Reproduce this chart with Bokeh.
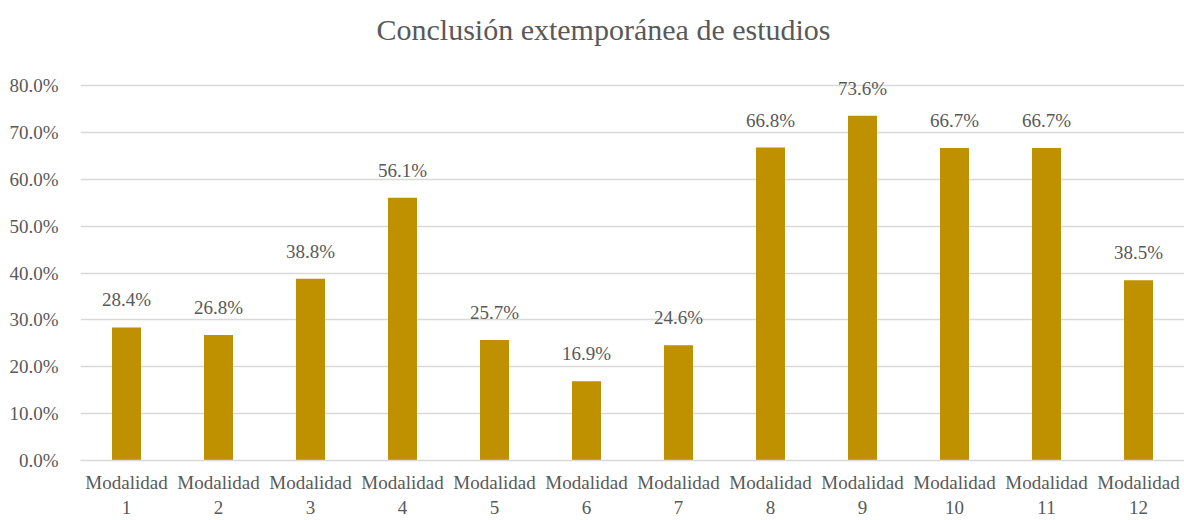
from bokeh.plotting import figure
from bokeh.models import ColumnDataSource, Range1d, FixedTicker, NumeralTickFormatter, Label
from bokeh.embed import file_html
from bokeh.resources import INLINE

categories = ["Modalidad\n1", "Modalidad\n2", "Modalidad\n3", "Modalidad\n4", "Modalidad\n5",
              "Modalidad\n6", "Modalidad\n7", "Modalidad\n8", "Modalidad\n9", "Modalidad\n10",
              "Modalidad\n11", "Modalidad\n12"]
values = [0.284, 0.268, 0.388, 0.561, 0.257, 0.169, 0.246, 0.668, 0.736, 0.667, 0.667, 0.385]
labels = ["28.4%", "26.8%", "38.8%", "56.1%", "25.7%", "16.9%", "24.6%", "66.8%", "73.6%",
          "66.7%", "66.7%", "38.5%"]
y_ticks = [0.0, 0.1, 0.2, 0.3, 0.4, 0.5, 0.6, 0.7, 0.8]
title_text = "Conclusión extemporánea de estudios"

FONT = "Liberation Serif"
TXT = "#595959"

src = ColumnDataSource(dict(cat=categories, val=values, lab=labels))

p = figure(x_range=categories, y_range=Range1d(0, 0.982), width=1184, height=520,
           output_backend="svg", toolbar_location=None,
           min_border_left=80, min_border_right=0, min_border_top=0, min_border_bottom=58)
p.outline_line_color = None
p.background_fill_color = "white"
p.border_fill_color = "white"

p.vbar(x="cat", top="val", width=0.315, source=src, fill_color="#BF9000", line_color=None)
p.text(x="cat", y="val", text="lab", source=src, text_align="center", text_baseline="bottom",
       y_offset=-17, text_font=FONT, text_font_size="19px", text_color=TXT)

title = Label(x=523, y=431, x_units="screen", y_units="screen", text=title_text,
              text_align="center", text_baseline="middle", text_font=FONT,
              text_font_size="30px", text_color=TXT)
p.add_layout(title)

p.yaxis.ticker = FixedTicker(ticks=y_ticks)
p.yaxis.formatter = NumeralTickFormatter(format="0.0%")
p.yaxis.axis_line_color = None
p.yaxis.major_tick_line_color = None
p.yaxis.minor_tick_line_color = None
p.yaxis.major_label_text_font = FONT
p.yaxis.major_label_text_font_size = "19px"
p.yaxis.major_label_text_color = TXT
p.yaxis.major_label_standoff = 16

p.xaxis.axis_line_color = "#D9D9D9"
p.xaxis.axis_line_width = 1.5
p.xaxis.major_tick_line_color = None
p.xaxis.minor_tick_line_color = None
p.xaxis.major_label_text_font = FONT
p.xaxis.major_label_text_font_size = "19px"
p.xaxis.major_label_text_color = TXT
p.xaxis.major_label_standoff = 5

p.xgrid.grid_line_color = None
p.ygrid.grid_line_color = "#D9D9D9"
p.ygrid.grid_line_width = 1.5

open("out.html", "w").write(file_html(p, INLINE))
